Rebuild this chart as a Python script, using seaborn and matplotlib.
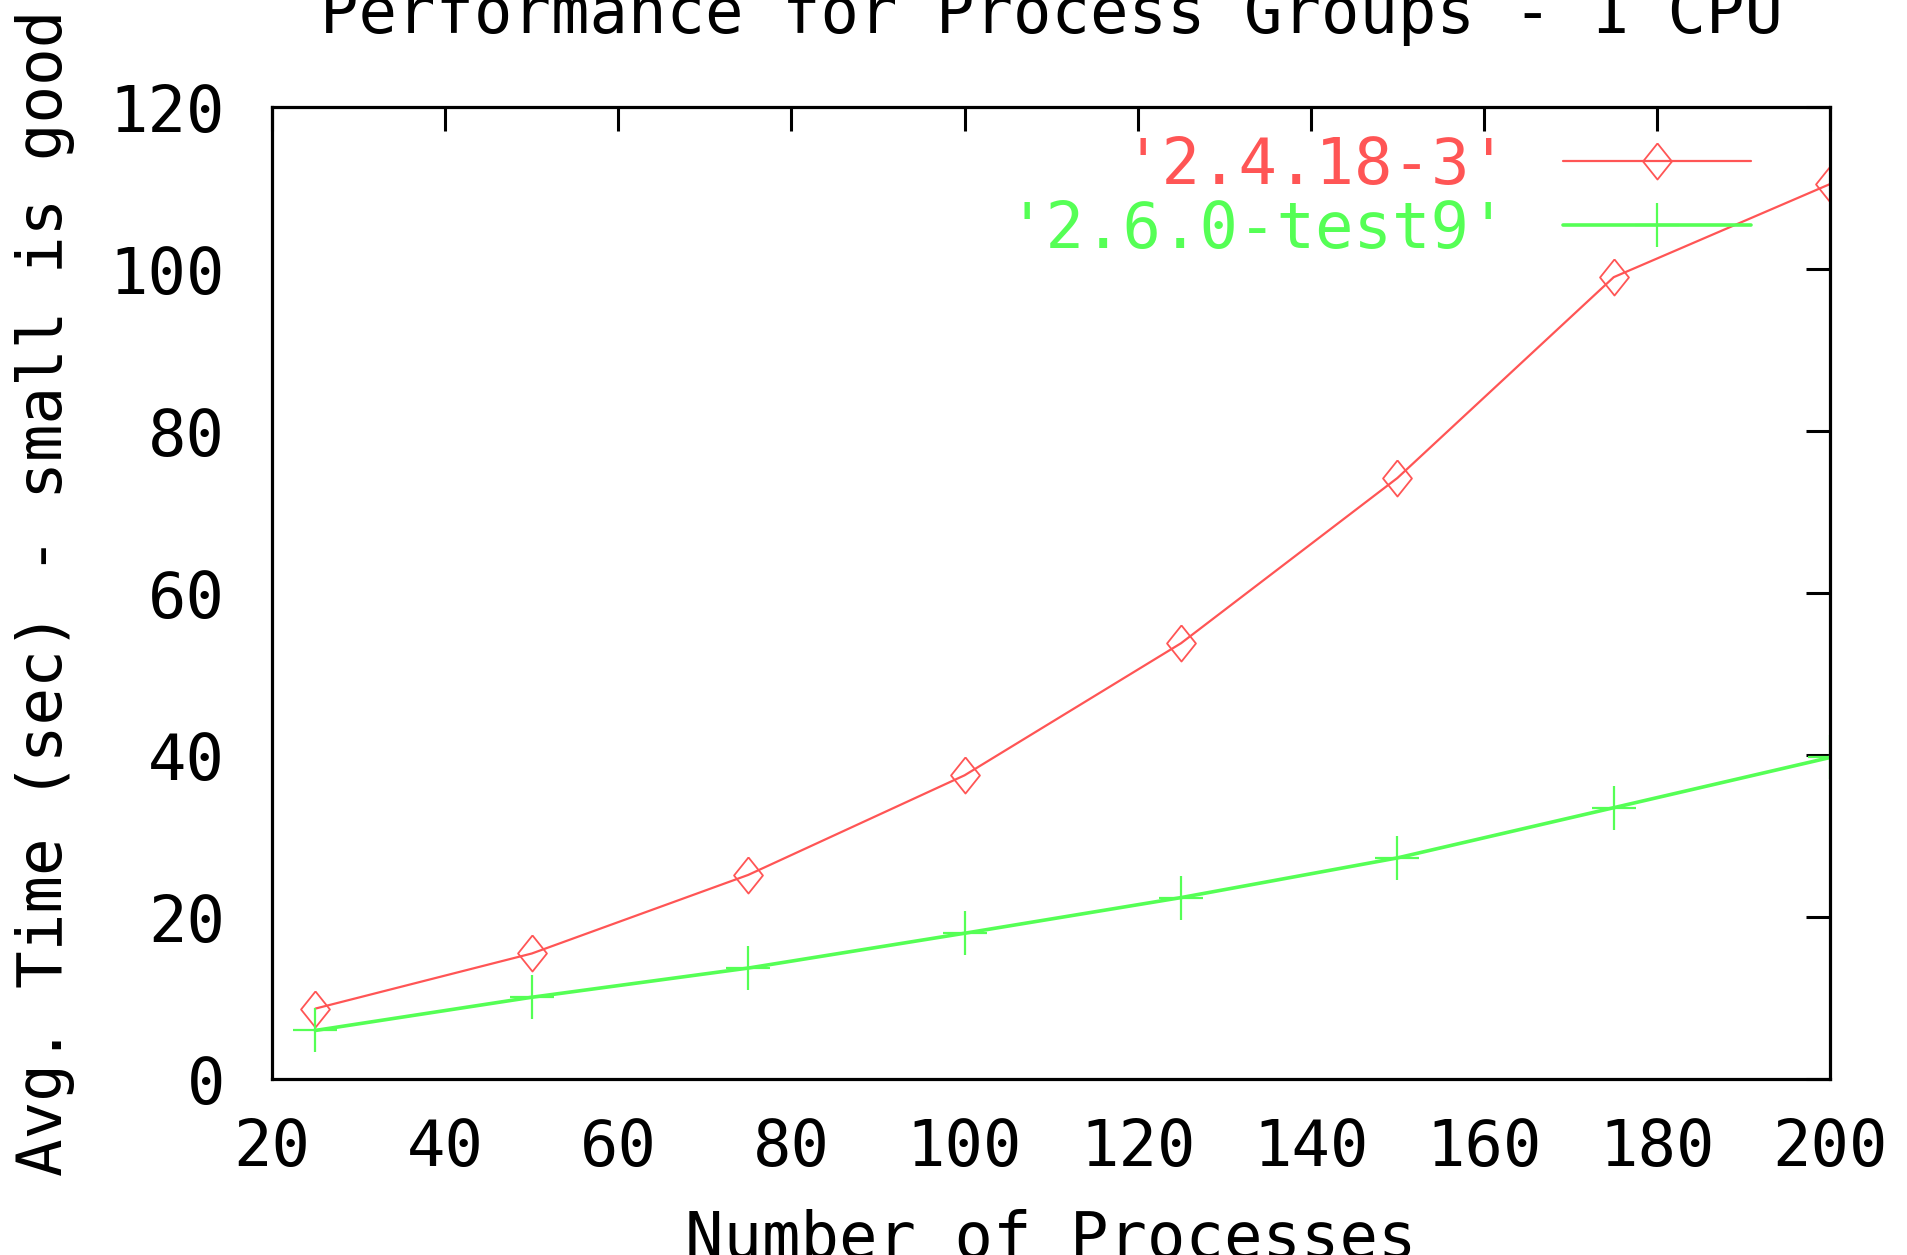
import matplotlib
matplotlib.use("Agg")
import matplotlib.pyplot as plt
import seaborn as sns

# Benchmark results: average time (s) vs number of processes
processes = [25, 50, 75, 100, 125, 150, 175, 200]
kernel_2418 = [8.7, 15.5, 25.2, 37.5, 53.8, 74.2, 99.0, 110.5]
kernel_260 = [6.0, 10.1, 13.7, 18.0, 22.4, 27.3, 33.5, 39.7]
series_names = ["'2.4.18-3'", "'2.6.0-test9'"]

x_ticks = [20, 40, 60, 80, 100, 120, 140, 160, 180, 200]
y_ticks = [0, 20, 40, 60, 80, 100, 120]

title = "Performance for Process Groups - 1 CPU"
x_label = "Number of Processes"
y_label = "Avg. Time (sec) - small is good"

RED = "#ff5555"
GREEN = "#55ff55"
FS = 46

sns.set_theme(style="white")
plt.rcParams["font.family"] = ["DejaVu Sans Mono", "DejaVu Sans"]
plt.rcParams["text.color"] = "black"

fig = plt.figure(figsize=(19.07, 12.55), dpi=100)
fig.patch.set_facecolor("white")
ax = fig.add_axes([0.1427, 0.1402, 0.8170, 0.7745])
ax.set_facecolor("white")

# open diamond, a bit wider than matplotlib's thin diamond
diamond = [(0, 1), (0.8, 0), (0, -1), (-0.8, 0), (0, 1)]

sns.lineplot(x=processes, y=kernel_2418, ax=ax, color=RED, linewidth=1.6,
             marker=diamond, markersize=26, markerfacecolor="none",
             markeredgecolor=RED, markeredgewidth=1.3, label=series_names[0])
sns.lineplot(x=processes, y=kernel_260, ax=ax, color=GREEN, linewidth=2.6,
             marker="+", markersize=31, markeredgecolor=GREEN,
             markeredgewidth=1.6, label=series_names[1])

ax.set_xlim(20, 200)
ax.set_ylim(0, 120)
ax.set_xticks(x_ticks)
ax.set_yticks(y_ticks)
ax.set_xticklabels([str(v) for v in x_ticks])
ax.set_yticklabels([str(v) for v in y_ticks])

for side in ["left", "right", "top", "bottom"]:
    ax.spines[side].set_visible(True)
    ax.spines[side].set_color("black")
    ax.spines[side].set_linewidth(2.3)

ax.tick_params(axis="both", direction="in", length=17, width=2.2,
               top=True, right=True, colors="black", labelsize=FS)
ax.tick_params(axis="x", pad=27)
ax.tick_params(axis="y", pad=34)

ax.set_title(title, fontsize=FS, pad=53, color="black")
ax.set_xlabel(x_label, fontsize=FS, labelpad=22, color="black")
ax.set_ylabel(y_label, fontsize=45, labelpad=25, color="black")

ax.legend(loc="upper right", bbox_to_anchor=(0.9493, 0.9715),
          markerfirst=False, frameon=False, fontsize=FS,
          handlelength=2.94, handletextpad=0.86, labelspacing=0.03,
          borderpad=0, borderaxespad=0, labelcolor="linecolor")

fig.savefig("out.png", dpi=100)
